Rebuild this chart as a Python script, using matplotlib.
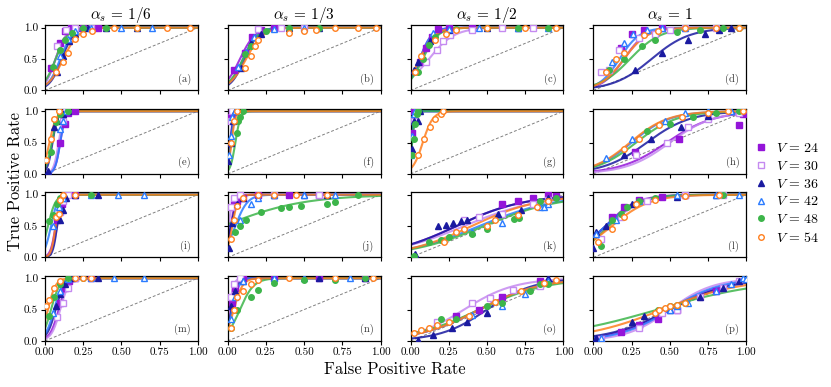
import numpy as np
import matplotlib
matplotlib.use("Agg")
import matplotlib.pyplot as plt
from matplotlib.lines import Line2D

plt.rcParams['font.family'] = 'serif'
plt.rcParams['font.serif'] = ['cmr10', 'DejaVu Serif']
plt.rcParams['mathtext.fontset'] = 'cm'
plt.rcParams['axes.unicode_minus'] = False
plt.rcParams['axes.formatter.use_mathtext'] = True

V_values = [24, 30, 36, 42, 48, 54]
alphas = ['1/6', '1/3', '1/2', '1']
labels = list('abcdefghijklmnop')

colors = {24: '#9414d9', 30: '#c58af0', 36: '#1a1aa0', 42: '#2a7bff', 48: '#3db54a', 54: '#ff7f1e'}
markers = {24: 's', 30: 's', 36: '^', 42: '^', 48: 'o', 54: 'o'}
filled = {24: True, 30: False, 36: True, 42: False, 48: True, 54: False}

# scatter points per panel: V -> (false positive rate, true positive rate)
pts_a = {24: ([0.04, 0.10, 0.13, 0.17, 0.25, 0.35], [0.35, 0.75, 0.95, 1.0, 1.0, 1.0]),
         30: ([0.08, 0.14, 0.20, 0.30], [0.70, 0.97, 1.0, 1.0]),
         36: ([0.08, 0.12, 0.16, 0.20, 0.28, 0.40, 0.60], [0.30, 0.55, 0.78, 0.90, 1.0, 1.0, 1.0]),
         42: ([0.10, 0.15, 0.20, 0.30, 0.50, 0.70], [0.55, 0.82, 0.95, 1.0, 1.0, 1.0]),
         48: ([0.05, 0.10, 0.13, 0.18, 0.25, 0.40, 0.60], [0.37, 0.65, 0.80, 0.92, 1.0, 1.0, 1.0]),
         54: ([0.07, 0.12, 0.15, 0.20, 0.25, 0.31, 0.45, 0.60, 0.80, 0.95], [0.30, 0.45, 0.60, 0.82, 0.90, 0.95, 1.0, 1.0, 1.0, 1.0])}
pts_b = {24: ([0.04, 0.11, 0.16, 0.22, 0.30], [0.33, 0.60, 0.85, 0.97, 1.0]),
         30: ([0.20, 0.35, 0.50], [0.98, 1.0, 1.0]),
         36: ([0.09, 0.15, 0.22, 0.40, 0.60], [0.35, 0.75, 0.90, 1.0, 1.0]),
         42: ([0.07, 0.12, 0.17, 0.30, 0.50], [0.38, 0.62, 0.85, 0.98, 1.0]),
         48: ([0.11, 0.15, 0.25, 0.40, 0.60], [0.58, 0.70, 0.95, 1.0, 1.0]),
         54: ([0.11, 0.15, 0.18, 0.20, 0.40, 0.50, 0.58, 0.70, 0.85, 0.97], [0.35, 0.55, 0.70, 0.80, 0.92, 0.95, 0.97, 1.0, 1.0, 1.0])}
pts_c = {24: ([0.06, 0.10, 0.14, 0.18, 0.25, 0.40], [0.45, 0.67, 0.85, 0.98, 1.0, 1.0]),
         30: ([0.10, 0.17, 0.21, 0.26, 0.40, 0.60, 0.80], [0.45, 0.64, 0.78, 0.88, 0.97, 1.0, 1.0]),
         36: ([0.02, 0.05, 0.13, 0.25, 0.50, 0.70], [0.32, 0.45, 0.78, 0.97, 1.0, 1.0]),
         42: ([0.15, 0.25, 0.45, 0.70, 0.90], [0.92, 0.98, 1.0, 1.0, 1.0]),
         48: ([0.05, 0.08, 0.12, 0.16, 0.30, 0.50, 0.70, 0.90], [0.30, 0.50, 0.72, 0.85, 0.98, 1.0, 1.0, 1.0]),
         54: ([0.03, 0.07, 0.16, 0.23, 0.30, 0.50, 0.75, 0.95], [0.30, 0.55, 0.80, 0.90, 0.97, 1.0, 1.0, 1.0])}
pts_d = {24: ([0.18, 0.25, 0.33, 0.45], [0.68, 0.90, 0.97, 1.0]),
         30: ([0.05, 0.10, 0.17, 0.30, 0.40, 0.50, 0.60, 0.80], [0.30, 0.32, 0.65, 0.83, 0.90, 0.97, 1.0, 1.0]),
         36: ([0.27, 0.45, 0.62, 0.73, 0.82, 0.90], [0.32, 0.60, 0.80, 0.90, 0.97, 1.0]),
         42: ([0.12, 0.20, 0.26, 0.35, 0.45, 0.60], [0.45, 0.75, 0.90, 0.97, 1.0, 1.0]),
         48: ([0.10, 0.20, 0.32, 0.40, 0.55, 0.70, 0.85, 0.95], [0.32, 0.50, 0.70, 0.80, 0.93, 0.97, 1.0, 1.0]),
         54: ([0.08, 0.15, 0.20, 0.33, 0.42, 0.60, 0.80, 0.95], [0.30, 0.50, 0.60, 0.88, 0.95, 1.0, 1.0, 1.0])}
pts_e = {24: ([0.10, 0.13, 0.15, 0.20], [0.50, 0.80, 0.97, 1.0]),
         30: ([0.12, 0.14], [0.85, 1.0]),
         36: ([0.02, 0.06, 0.08, 0.12, 0.15], [0.05, 0.75, 0.85, 0.95, 1.0]),
         42: ([0.10, 0.12, 0.14], [0.72, 0.85, 1.0]),
         48: ([0.04, 0.07, 0.10, 0.15], [0.35, 0.82, 0.95, 1.0]),
         54: ([0.01, 0.04, 0.06, 0.09], [0.22, 0.55, 0.88, 1.0])}
pts_f = {24: ([0.02, 0.04], [0.90, 1.0]),
         30: ([0.02, 0.03], [0.85, 1.0]),
         36: ([0.005, 0.02, 0.035, 0.05], [0.20, 0.50, 0.85, 1.0]),
         42: ([0.01, 0.02, 0.03, 0.05], [0.30, 0.60, 0.90, 1.0]),
         48: ([0.06, 0.07, 0.08, 0.10], [0.65, 0.85, 0.90, 1.0]),
         54: ([0.02, 0.04, 0.06], [0.50, 0.85, 1.0])}
pts_g = {24: ([0.01, 0.02], [0.65, 1.0]),
         30: ([0.02, 0.04], [0.85, 1.0]),
         36: ([0.01, 0.02, 0.05, 0.06], [0.40, 0.85, 0.85, 1.0]),
         42: ([0.005, 0.01, 0.02, 0.03], [0.30, 0.60, 0.95, 1.0]),
         48: ([0.01, 0.02, 0.03, 0.04, 0.05], [0.30, 0.55, 0.80, 0.95, 1.0]),
         54: ([0.05, 0.09, 0.13, 0.16, 0.20, 0.21], [0.30, 0.55, 0.75, 0.88, 0.95, 1.0])}
pts_h = {24: ([0.27, 0.56, 0.95, 0.98], [0.35, 0.55, 0.78, 0.95]),
         30: ([0.28, 0.48, 0.62, 0.75, 0.95], [0.30, 0.50, 0.75, 0.87, 0.97]),
         36: ([0.20, 0.38, 0.57, 0.75, 0.90], [0.30, 0.55, 0.75, 0.93, 1.0]),
         42: ([0.08, 0.25, 0.47, 0.60, 0.75, 0.90], [0.25, 0.55, 0.85, 0.97, 1.0, 1.0]),
         48: ([0.35, 0.50, 0.65, 0.80, 0.95], [0.68, 0.80, 0.90, 0.97, 1.0]),
         54: ([0.20, 0.30, 0.43, 0.58, 0.75, 0.88, 0.98], [0.40, 0.55, 0.78, 0.90, 0.97, 1.0, 1.0])}
pts_i = {24: ([0.08, 0.11, 0.14, 0.20], [0.60, 0.85, 1.0, 1.0]),
         30: ([0.10, 0.12, 0.15], [0.72, 0.90, 1.0]),
         36: ([0.10, 0.12, 0.14, 0.20, 0.35], [0.60, 0.75, 0.95, 1.0, 1.0]),
         42: ([0.05, 0.09, 0.12, 0.30, 0.48, 0.65], [0.50, 0.80, 0.95, 1.0, 1.0, 1.0]),
         48: ([0.03, 0.05, 0.08, 0.10, 0.30], [0.58, 0.68, 0.85, 0.95, 1.0]),
         54: ([0.07, 0.09, 0.10, 0.12, 0.20], [0.65, 0.70, 0.92, 1.0, 1.0])}
pts_j = {24: ([0.04, 0.06, 0.10, 0.20, 0.40, 0.60], [0.85, 0.90, 0.95, 1.0, 1.0, 1.0]),
         30: ([0.02, 0.04, 0.08, 0.30, 0.60], [0.80, 0.95, 1.0, 1.0, 1.0]),
         36: ([0.01, 0.03, 0.06, 0.10, 0.30, 0.50, 0.65], [0.15, 0.55, 0.85, 0.95, 1.0, 1.0, 1.0]),
         42: ([0.08, 0.15, 0.20, 0.30, 0.50, 0.70], [0.60, 0.85, 0.95, 1.0, 1.0, 1.0]),
         48: ([0.05, 0.08, 0.12, 0.22, 0.35, 0.40, 0.48, 0.65, 0.70, 0.85], [0.40, 0.50, 0.60, 0.72, 0.78, 0.80, 0.82, 0.85, 0.88, 1.0]),
         54: ([0.02, 0.04, 0.06, 0.10, 0.20, 0.30, 0.45, 0.65], [0.30, 0.60, 0.82, 0.95, 1.0, 1.0, 1.0, 1.0])}
pts_k = {24: ([0.60, 0.70, 0.80, 0.90, 0.95], [0.85, 0.90, 0.95, 1.0, 0.98]),
         30: ([0.35, 0.45, 0.60, 0.80, 0.90], [0.60, 0.65, 0.70, 0.85, 0.92]),
         36: ([0.03, 0.18, 0.23, 0.28, 0.33, 0.37, 0.57, 0.72, 0.90], [0.05, 0.50, 0.52, 0.55, 0.58, 0.60, 0.70, 0.75, 0.95]),
         42: ([0.40, 0.60, 0.85, 0.87, 0.90], [0.40, 0.55, 0.80, 0.80, 0.85]),
         48: ([0.02, 0.12, 0.20, 0.25, 0.40, 0.50, 0.68, 0.71, 0.85, 0.95], [0.02, 0.25, 0.28, 0.32, 0.38, 0.45, 0.62, 0.63, 0.90, 0.95]),
         54: ([0.22, 0.30, 0.35, 0.50, 0.55, 0.70, 0.83, 0.90], [0.25, 0.40, 0.45, 0.50, 0.60, 0.68, 0.80, 0.90])}
pts_l = {24: ([0.12, 0.20, 0.30, 0.45, 0.60], [0.65, 0.80, 0.92, 0.97, 1.0]),
         30: ([0.05, 0.18, 0.35, 0.60, 0.85], [0.30, 0.65, 0.90, 1.0, 1.0]),
         36: ([0.0, 0.02, 0.08, 0.25, 0.55, 0.80], [0.15, 0.40, 0.50, 0.85, 0.97, 1.0]),
         42: ([0.02, 0.15, 0.30, 0.55, 0.80, 0.95], [0.38, 0.60, 0.90, 1.0, 1.0, 1.0]),
         48: ([0.05, 0.12, 0.18, 0.22, 0.30, 0.40, 0.85], [0.18, 0.60, 0.70, 0.80, 0.90, 0.95, 1.0]),
         54: ([0.03, 0.12, 0.20, 0.28, 0.40, 0.60, 0.82], [0.25, 0.45, 0.65, 0.85, 0.92, 0.98, 1.0])}
pts_m = {24: ([0.10, 0.13, 0.16, 0.20, 0.30], [0.60, 0.85, 0.95, 1.0, 1.0]),
         30: ([0.08, 0.12, 0.15, 0.20], [0.38, 0.60, 0.85, 1.0]),
         36: ([0.07, 0.10, 0.13, 0.18, 0.35], [0.55, 0.75, 0.90, 1.0, 1.0]),
         42: ([0.05, 0.10, 0.15, 0.30, 0.45, 0.65], [0.45, 0.80, 0.98, 1.0, 1.0, 1.0]),
         48: ([0.03, 0.06, 0.10, 0.15, 0.25], [0.40, 0.70, 0.90, 1.0, 1.0]),
         54: ([0.01, 0.03, 0.06, 0.10, 0.20, 0.25, 0.30], [0.55, 0.65, 0.85, 0.95, 1.0, 1.0, 1.0])}
pts_n = {24: ([0.03, 0.05, 0.10, 0.30, 0.60, 0.90], [0.60, 0.85, 1.0, 1.0, 1.0, 1.0]),
         30: ([0.02, 0.04, 0.08], [0.70, 0.90, 1.0]),
         36: ([0.02, 0.05, 0.10, 0.30, 0.60, 0.90], [0.55, 0.80, 0.95, 1.0, 1.0, 1.0]),
         42: ([0.02, 0.05, 0.10, 0.30, 0.50, 0.80], [0.35, 0.70, 0.95, 1.0, 1.0, 1.0]),
         48: ([0.02, 0.06, 0.15, 0.20, 0.30, 0.50, 0.70, 0.90], [0.20, 0.50, 0.70, 0.82, 0.92, 0.97, 0.97, 1.0]),
         54: ([0.02, 0.04, 0.06, 0.10, 0.15, 0.20, 0.40, 0.70, 0.95], [0.20, 0.50, 0.70, 0.80, 0.90, 0.97, 1.0, 1.0, 1.0])}
pts_o = {24: ([0.30, 0.45, 0.60, 0.85], [0.40, 0.50, 0.70, 0.95]),
         30: ([0.17, 0.40, 0.52, 0.67, 0.85], [0.30, 0.60, 0.68, 0.82, 0.88]),
         36: ([0.05, 0.15, 0.27, 0.37, 0.50, 0.90], [0.02, 0.10, 0.20, 0.30, 0.45, 1.0]),
         42: ([0.40, 0.60, 0.75, 0.90], [0.42, 0.55, 0.75, 0.95]),
         48: ([0.20, 0.30, 0.50, 0.60, 0.78, 0.85, 0.90], [0.35, 0.35, 0.55, 0.60, 0.80, 0.90, 0.90]),
         54: ([0.02, 0.07, 0.12, 0.17, 0.25, 0.38, 0.55, 0.72, 0.87, 0.95], [0.12, 0.18, 0.20, 0.25, 0.30, 0.40, 0.62, 0.80, 0.93, 0.97])}
pts_p = {24: ([0.18, 0.30, 0.42, 0.55, 0.80], [0.15, 0.25, 0.35, 0.50, 0.80]),
         30: ([0.05, 0.30, 0.45, 0.55, 0.70, 0.85, 0.95], [0.03, 0.20, 0.45, 0.50, 0.70, 0.85, 0.95]),
         36: ([0.02, 0.25, 0.33, 0.50, 0.70, 0.85, 0.95], [0.05, 0.30, 0.40, 0.50, 0.70, 0.85, 0.95]),
         42: ([0.05, 0.50, 0.55, 0.62, 0.80, 0.90, 0.98, 1.0], [0.05, 0.50, 0.55, 0.60, 0.80, 0.90, 1.0, 0.98]),
         48: ([0.42, 0.50, 0.55, 0.60], [0.50, 0.55, 0.58, 0.60]),
         54: ([0.40, 0.43, 0.47, 0.50, 0.55, 0.60], [0.45, 0.50, 0.52, 0.55, 0.58, 0.60])}

# fitted sigmoid curves per V: (midpoint, steepness) for panels a..p
fit_24 = [(0.07, 28), (0.08, 20), (0.06, 25), (0.20, 14), (0.10, 60), (0.02, 100), (0.005, 150), (0.48, 6.5),
          (0.07, 60), (0.02, 60), (0.30, 4.5), (0.08, 10), (0.09, 35), (0.02, 60), (0.45, 5), (0.50, 5.5)]
fit_30 = [(0.07, 28), (0.10, 22), (0.12, 12), (0.20, 13), (0.09, 60), (0.015, 100), (0.01, 120), (0.50, 7),
          (0.08, 60), (0.005, 70), (0.35, 4), (0.10, 9), (0.10, 35), (0.01, 70), (0.35, 6), (0.50, 7)]
fit_36 = [(0.11, 25), (0.11, 22), (0.07, 20), (0.38, 8), (0.05, 60), (0.015, 80), (0.01, 120), (0.35, 7),
          (0.08, 70), (0.02, 45), (0.30, 4.5), (0.08, 9), (0.07, 35), (0.025, 50), (0.50, 6.5), (0.50, 5)]
fit_42 = [(0.10, 25), (0.10, 22), (0.06, 25), (0.17, 15), (0.10, 60), (0.02, 90), (0.008, 150), (0.25, 8),
          (0.04, 45), (0.05, 25), (0.45, 4), (0.08, 9), (0.06, 35), (0.03, 45), (0.45, 5), (0.50, 6)]
fit_48 = [(0.07, 25), (0.10, 20), (0.08, 20), (0.24, 10), (0.045, 50), (0.05, 60), (0.01, 100), (0.28, 7.5),
          (0.02, 40), (-0.03, 3.8), (0.48, 4), (0.10, 10), (0.04, 35), (0.08, 22), (0.45, 4.5), (0.42, 2.8)]
fit_54 = [(0.12, 20), (0.12, 18), (0.06, 20), (0.20, 13), (0.03, 45), (0.025, 80), (0.08, 30), (0.24, 8),
          (0.07, 70), (0.03, 55), (0.40, 4.5), (0.12, 8), (0.02, 40), (0.04, 35), (0.45, 5), (0.45, 3.8)]

panels = [pts_a, pts_b, pts_c, pts_d, pts_e, pts_f, pts_g, pts_h,
          pts_i, pts_j, pts_k, pts_l, pts_m, pts_n, pts_o, pts_p]
fits = {24: fit_24, 30: fit_30, 36: fit_36, 42: fit_42, 48: fit_48, 54: fit_54}

fig, axes = plt.subplots(4, 4, figsize=(8.31, 3.87), dpi=100, sharex=True)
fig.subplots_adjust(left=0.054, right=0.898, top=0.935, bottom=0.119, wspace=0.196, hspace=0.28)

xs = np.linspace(0, 1, 300)
for idx, ax in enumerate(axes.flat):
    ax.plot([0, 1], [0, 1], ls=(0, (3, 2)), color='gray', lw=0.7, zorder=1)
    for V in V_values:
        c = colors[V]
        x0, k = fits[V][idx]
        ax.plot(xs, 1 / (1 + np.exp(-k * (xs - x0))), color=c, lw=1.5, alpha=0.85, zorder=2)
        fx, ty = panels[idx][V]
        ax.plot(fx, ty, ls='none', marker=markers[V], ms=4, mew=1.0,
                mfc=c if filled[V] else 'white', mec=c, zorder=3)
    ax.set_xlim(0, 1)
    ax.set_ylim(0, 1.04)
    ax.set_xticks([0, 0.25, 0.5, 0.75, 1.0])
    ax.set_yticks([0, 0.5, 1.0])
    ax.tick_params(labelsize=8, length=3, width=0.8, pad=2)
    if idx % 4 == 0:
        ax.set_yticklabels(['0.0', '0.5', '1.0'])
    else:
        ax.set_yticklabels([])
    if idx >= 12:
        ax.set_xticklabels(['0.00', '0.25', '0.50', '0.75', '1.00'])
    for s in ax.spines.values():
        s.set_linewidth(0.9)
    ax.text(0.955, 0.09, '(' + labels[idx] + ')', transform=ax.transAxes,
            ha='right', va='bottom', fontsize=7.5, color='#333333')

for j, a in enumerate(alphas):
    axes[0, j].set_title(r'$\alpha_s\,=\,' + a + '$', fontsize=11, pad=4)

fig.text(0.475, 0.045, 'False Positive Rate', ha='center', va='center', fontsize=12)
fig.text(0.018, 0.53, 'True Positive Rate', ha='center', va='center', rotation=90, fontsize=12)

handles = [Line2D([], [], ls='none', marker=markers[V], ms=4, mew=1.0, color=colors[V],
                  mfc=colors[V] if filled[V] else 'white', mec=colors[V]) for V in V_values]
fig.legend(handles, [r'$V\,=\,%d$' % V for V in V_values], loc='center left',
           bbox_to_anchor=(0.897, 0.50), frameon=False, fontsize=10,
           handletextpad=0.6, labelspacing=0.35, handlelength=1.0, borderaxespad=0.2)

fig.savefig('out.png', dpi=100)
